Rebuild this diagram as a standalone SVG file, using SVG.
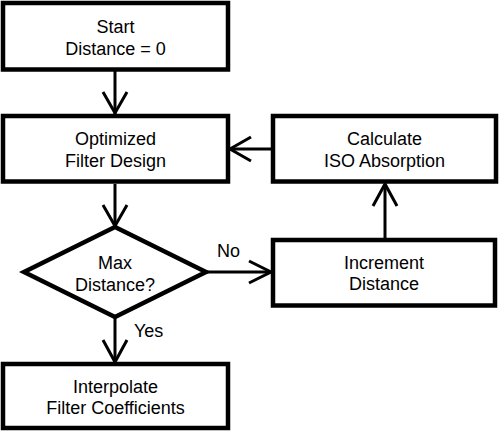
<svg xmlns="http://www.w3.org/2000/svg" width="500" height="433" viewBox="0 0 500 433">
<style>
.box{fill:#fff;stroke:#000;stroke-width:4.5}
.t{font-family:"Liberation Sans",Arial,sans-serif;font-size:18px;fill:#000;text-anchor:middle}
.l{font-family:"Liberation Sans",Arial,sans-serif;font-size:18px;fill:#000}
.c{fill:none;stroke:#000;stroke-width:3}
</style>
<rect width="500" height="433" fill="#fff"/>
<g id="connectors">
<line class="c" x1="115" y1="71" x2="115" y2="114"/>
<polyline class="c" points="103,92 115,113 127,92"/>
<line class="c" x1="115" y1="184" x2="115" y2="226"/>
<polyline class="c" points="103,205 115,226 127,205"/>
<line class="c" x1="206" y1="272" x2="271" y2="272"/>
<polyline class="c" points="249,261 271,272 249,283"/>
<line class="c" x1="385" y1="238" x2="385" y2="184"/>
<polyline class="c" points="373,206 385,184 397,206"/>
<line class="c" x1="271" y1="149" x2="230" y2="149"/>
<polyline class="c" points="251,137 230,149 251,161"/>
<line class="c" x1="115" y1="317" x2="115" y2="362"/>
<polyline class="c" points="103,340 115,362 127,340"/>
<text class="l" x="217" y="257">No</text>
<text class="l" x="134" y="337">Yes</text>
</g>
<g id="start">
<rect class="box" x="3" y="3" width="225" height="66.5"/>
<text class="t" x="115.5" y="33">Start</text>
<text class="t" x="115.5" y="55">Distance = 0</text>
</g>
<g id="optimized">
<rect class="box" x="3" y="116" width="225" height="65.5"/>
<text class="t" x="115.5" y="145">Optimized</text>
<text class="t" x="115.5" y="167">Filter Design</text>
</g>
<g id="calculate">
<rect class="box" x="273" y="116" width="223" height="65.5"/>
<text class="t" x="384.5" y="145">Calculate</text>
<text class="t" x="384.5" y="167">ISO Absorption</text>
</g>
<g id="decision">
<polygon class="box" points="115,227 206,272 115,317 24,272" stroke-linejoin="miter"/>
<text class="t" x="115" y="269">Max</text>
<text class="t" x="115" y="291">Distance?</text>
</g>
<g id="increment">
<rect class="box" x="273" y="240" width="222" height="65.5"/>
<text class="t" x="384" y="269">Increment</text>
<text class="t" x="384" y="290">Distance</text>
</g>
<g id="interpolate">
<rect class="box" x="3" y="364" width="225" height="64"/>
<text class="t" x="115.5" y="393">Interpolate</text>
<text class="t" x="115.5" y="414">Filter Coefficients</text>
</g>
</svg>
